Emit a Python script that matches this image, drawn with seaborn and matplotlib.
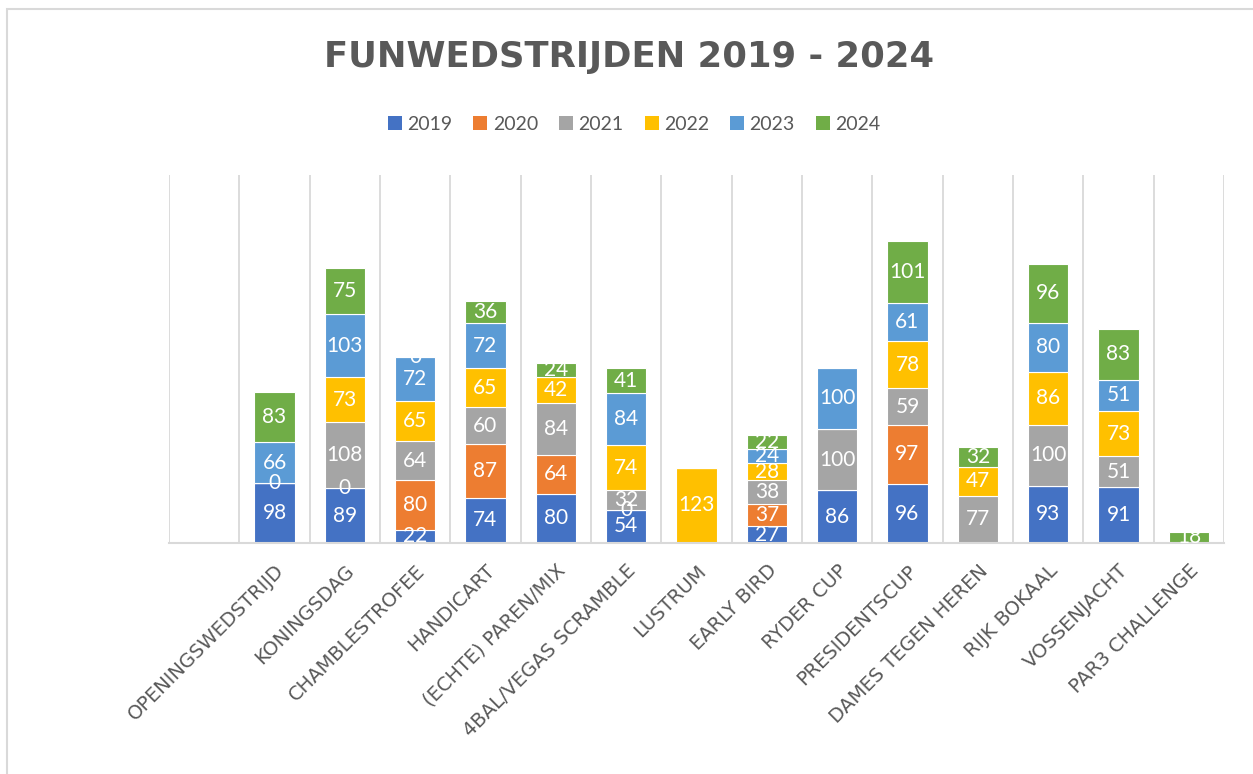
import numpy as np
import matplotlib
matplotlib.use("Agg")
import matplotlib.pyplot as plt
from matplotlib.patches import Patch, Rectangle
import seaborn as sns

# data (None = no value / no label)
wedstrijden = ["OPENINGSWEDSTRIJD", "KONINGSDAG", "CHAMBLESTROFEE", "HANDICART",
               "(ECHTE) PAREN/MIX", "4BAL/VEGAS SCRAMBLE", "LUSTRUM", "EARLY BIRD",
               "RYDER CUP", "PRESIDENTSCUP", "DAMES TEGEN HEREN", "RIJK BOKAAL",
               "VOSSENJACHT", "PAR3 CHALLENGE"]
jaren = ["2019", "2020", "2021", "2022", "2023", "2024"]

v2019 = [98, 89, 22, 74, 80, 54, None, 27, 86, 96, None, 93, 91, None]
v2020 = [0, 0, 80, 87, 64, 0, None, 37, None, 97, None, None, None, None]
v2021 = [None, 108, 64, 60, 84, 32, None, 38, 100, 59, 77, 100, 51, None]
v2022 = [None, 73, 65, 65, 42, 74, 123, 28, None, 78, 47, 86, 73, None]
v2023 = [66, 103, 72, 72, None, 84, None, 24, 100, 61, None, 80, 51, None]
v2024 = [83, 75, 0, 36, 24, 41, None, 22, None, 101, 32, 96, 83, 18]

kleuren = ["#4472C4", "#ED7D31", "#A5A5A5", "#FFC000", "#5B9BD5", "#70AD47"]

TEKST = "#595959"
RASTER = "#D9D9D9"

sns.set_theme(style="white")
plt.rcParams["font.family"] = ["Lato", "DejaVu Sans"]

W, H = 1253, 774
fig = plt.figure(figsize=(W / 100, H / 100), dpi=100)
ax = fig.add_axes([169 / W, 1 - 543 / H, (1224 - 169) / W, (543 - 175) / H])

reeksen = [v2019, v2020, v2021, v2022, v2023, v2024]
onderkant = np.zeros(len(wedstrijden))
for jaar, reeks, kleur in zip(jaren, reeksen, kleuren):
    hoogte = np.array([0 if v is None else v for v in reeks], dtype=float)
    sns.barplot(x=wedstrijden, y=hoogte, order=wedstrijden, color=kleur,
                width=0.57, bottom=onderkant, errorbar=None, saturation=1,
                edgecolor="white", linewidth=0.8, ax=ax)
    bars = ax.containers[-1]
    ax.bar_label(bars, labels=["" if v is None else str(v) for v in reeks],
                 label_type="center", color="white", fontsize=15)
    onderkant += hoogte

ax.set_xlim(-1.5, len(wedstrijden) - 0.5)
ax.set_ylim(0, 600)
ax.set_yticks([])
ax.set_ylabel("")
ax.set_xlabel("")

# vertical separators between categories
ax.set_xticks(np.arange(-1.5, len(wedstrijden), 1), minor=True)
ax.grid(which="minor", axis="x", color=RASTER, linewidth=1.3)
ax.grid(which="major", visible=False)
ax.set_axisbelow(True)
for kant in ["top", "left", "right"]:
    ax.spines[kant].set_visible(False)
ax.spines["bottom"].set_color(RASTER)
ax.spines["bottom"].set_linewidth(1.5)

ax.set_xticks(range(len(wedstrijden)))
ax.set_xticklabels(wedstrijden, rotation=45, ha="right", va="top",
                   rotation_mode="anchor", fontsize=14, color=TEKST,
                   family=["DejaVu Sans"])
ax.tick_params(axis="x", which="both", length=0, pad=13)

fig.text(629 / W, 1 - 57 / H, "FUNWEDSTRIJDEN 2019 - 2024", ha="center",
         va="center", fontsize=25.5, fontweight="bold", color=TEKST,
         family=["DejaVu Sans"])

handles = [Patch(facecolor=k, edgecolor="none") for k in kleuren]
leg = fig.legend(handles, jaren, loc="center", bbox_to_anchor=(634 / W, 1 - 124 / H),
                 ncol=6, frameon=False, fontsize=14, handlelength=0.72,
                 handleheight=0.72, handletextpad=0.28, columnspacing=1.08)
for t in leg.get_texts():
    t.set_color(TEKST)

# chart border (only top and left edge fall inside the picture)
fig.add_artist(Rectangle((7 / W, -0.05), 1.2, 1.05 - 9 / H, transform=fig.transFigure,
                         fill=False, edgecolor=RASTER, linewidth=1.5))

fig.savefig("out.png", dpi=100)
